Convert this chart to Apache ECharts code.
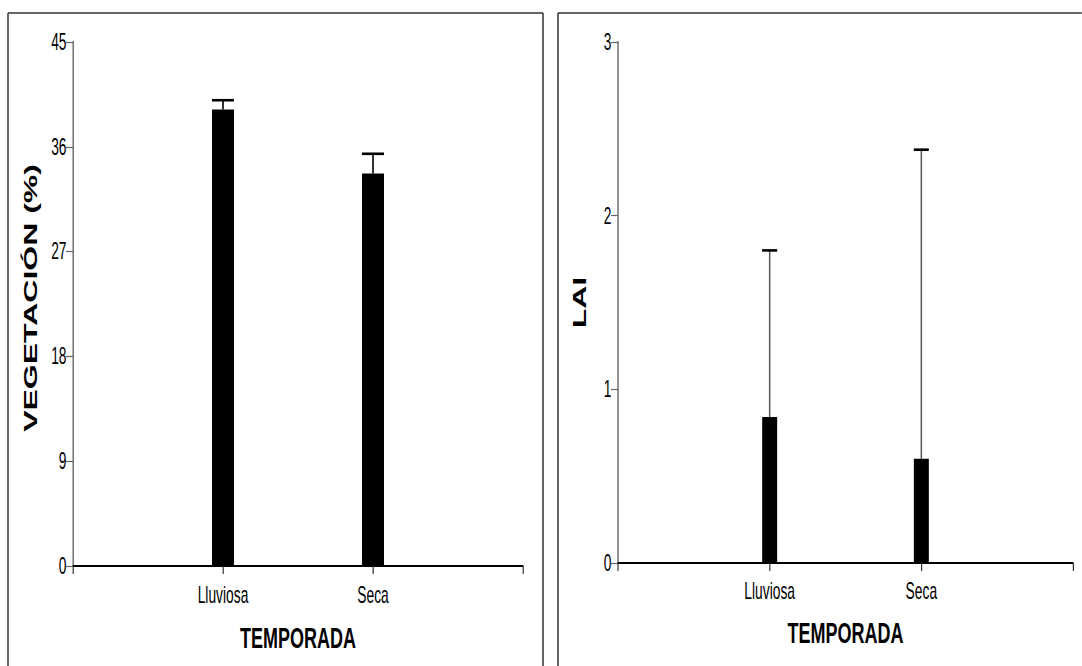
<!DOCTYPE html>
<html>
<head>
<meta charset="utf-8">
<script src="https://cdn.jsdelivr.net/npm/echarts@6/dist/echarts.min.js"></script>
<style>
  html, body { margin: 0; padding: 0; background: #fff; overflow: hidden; }
  #wrap { width: 1082px; height: 666px; overflow: hidden; position: relative; background: #fff; }
  #chart { position: absolute; left: 0; top: 0; height: 666px; transform-origin: 0 0; }
</style>
</head>
<body>
<div id="wrap"><div id="chart"></div></div>
<script>
// ---- data ----
const categories = ['', 'Lluviosa', 'Seca', ''];
const vegMean = [null, 39.2, 33.7, null];
const vegErrTop = [null, 40.0, 35.4, null];
const laiMean = [null, 0.84, 0.60, null];
const laiErrTop = [null, 1.80, 2.38, null];
const vegAxis = { min: 0, max: 45, interval: 9 };
const laiAxis = { min: 0, max: 3, interval: 1 };
const xTitle = 'TEMPORADA';
const vegTitle = 'VEGETACIÓN (%)';
const laiTitle = 'LAI';

// The original figure is drawn with a horizontally condensed look;
// the chart is laid out wider and displayed condensed by S.
const S = 0.6;
const W = 1082, H = 666;
const hx = v => v / S;          // horizontal screen length -> layout length

const chartEl = document.getElementById('chart');
chartEl.style.width = hx(W) + 'px';
chartEl.style.transform = 'scaleX(' + S + ')';

const font = "'Liberation Sans', Arial, sans-serif";

function errData(mean, top) {
  const out = [];
  for (let i = 0; i < mean.length; i++) {
    if (mean[i] != null && top[i] != null) out.push([i, mean[i], top[i]]);
  }
  return out;
}

function errSeries(gridIdx, mean, top, capW, stemColor, stemW) {
  return {
    type: 'custom',
    xAxisIndex: gridIdx,
    yAxisIndex: gridIdx,
    z: 1,
    data: errData(mean, top),
    renderItem: function (params, api) {
      const x = api.value(0);
      const lo = api.coord([x, api.value(1)]);
      const hi = api.coord([x, api.value(2)]);
      return {
        type: 'group',
        children: [
          { type: 'line', shape: { x1: lo[0], y1: lo[1], x2: hi[0], y2: hi[1] },
            style: { stroke: stemColor, lineWidth: hx(stemW) } },
          { type: 'line', shape: { x1: hi[0] - capW / 2, y1: hi[1], x2: hi[0] + capW / 2, y2: hi[1] },
            style: { stroke: '#000', lineWidth: 2.6 } }
        ]
      };
    }
  };
}

function xAxisCfg(gridIdx, labelMargin, gap) {
  return {
    type: 'category',
    gridIndex: gridIdx,
    data: categories,
    boundaryGap: false,
    name: xTitle,
    nameLocation: 'middle',
    nameGap: gap,
    nameTextStyle: { fontFamily: font, fontWeight: 'bold', fontSize: 30, color: '#000' },
    axisLine: { lineStyle: { color: '#000', width: 2 } },
    axisTick: { length: 8, lineStyle: { color: '#333', width: hx(1.2) } },
    axisLabel: { fontFamily: font, fontSize: 23, color: '#000', margin: labelMargin, interval: 0 },
    splitLine: { show: false }
  };
}

function yAxisCfg(gridIdx, ax, title, gap, pad) {
  return {
    type: 'value',
    gridIndex: gridIdx,
    min: ax.min, max: ax.max, interval: ax.interval,
    name: title,
    nameLocation: 'middle',
    nameRotate: 90,
    nameGap: gap,
    nameTextStyle: { fontFamily: font, fontWeight: 'bold', fontSize: 32, color: '#000', padding: pad },
    axisLine: { show: true, lineStyle: { color: '#666', width: hx(1.4) } },
    axisTick: { show: true, length: hx(7), lineStyle: { color: '#666', width: 1.2 } },
    axisLabel: { fontFamily: font, fontSize: 23, color: '#000', margin: hx(6.5) },
    splitLine: { show: false }
  };
}

function frameLines(x1, x2, top, bottom, drawRight) {
  const st = { stroke: '#333', lineWidth: 1.5 };
  const stV = { stroke: '#333', lineWidth: hx(1.5) };
  const out = [
    { type: 'line', shape: { x1: hx(x1), y1: top, x2: hx(x2), y2: top }, style: st, z: -10 },
    { type: 'line', shape: { x1: hx(x1), y1: top, x2: hx(x1), y2: bottom }, style: stV, z: -10 }
  ];
  if (drawRight) {
    out.push({ type: 'line', shape: { x1: hx(x2), y1: top, x2: hx(x2), y2: bottom }, style: stV, z: -10 });
  }
  return out;
}

const chart = echarts.init(chartEl, null, { renderer: 'svg' });
chart.setOption({
  backgroundColor: '#fff',
  animation: false,
  graphic: [].concat(
    frameLines(8, 543, 13, 680, true),
    frameLines(558, 1090, 13, 680, false)
  ),
  grid: [
    { left: hx(73), top: 42, width: hx(450), height: 524 },
    { left: hx(618), top: 42, width: hx(455), height: 521 }
  ],
  xAxis: [xAxisCfg(0, 18, 57), xAxisCfg(1, 17, 55)],
  yAxis: [
    yAxisCfg(0, vegAxis, vegTitle, 55, [0, 0, 0, 12]),
    yAxisCfg(1, laiAxis, laiTitle, 49, [0, 0, 0, 0])
  ],
  series: [
    errSeries(0, vegMean, vegErrTop, hx(22), '#000', 1.6),
    { type: 'bar', xAxisIndex: 0, yAxisIndex: 0, data: vegMean, barWidth: hx(22),
      itemStyle: { color: '#000' }, z: 2 },
    errSeries(1, laiMean, laiErrTop, hx(15), '#555', 1.5),
    { type: 'bar', xAxisIndex: 1, yAxisIndex: 1, data: laiMean, barWidth: hx(15),
      itemStyle: { color: '#000' }, z: 2 }
  ]
});
</script>
</body>
</html>
